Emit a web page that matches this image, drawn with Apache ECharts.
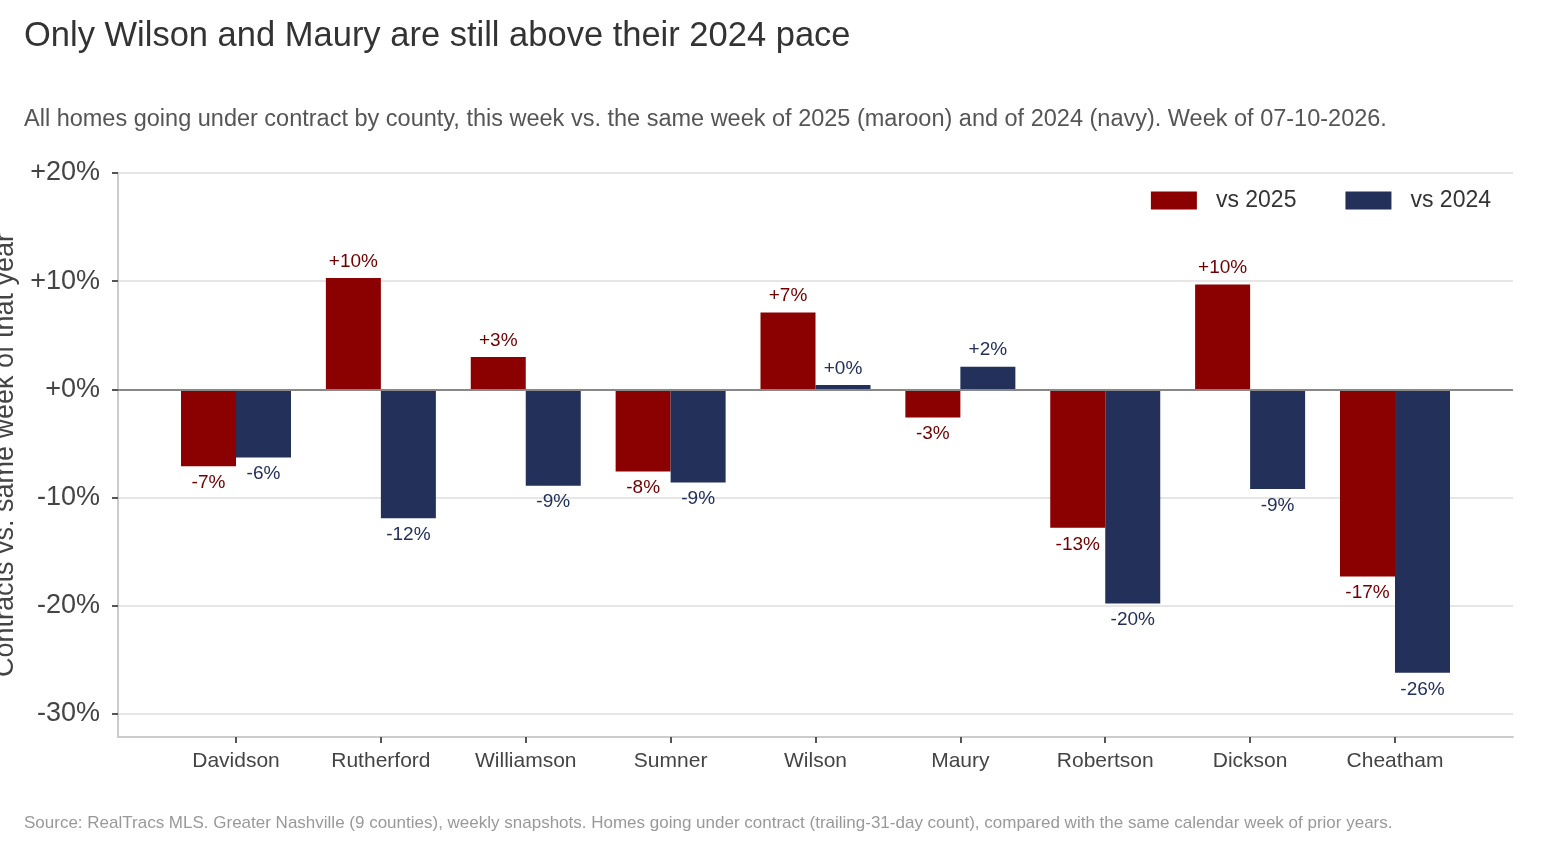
<!DOCTYPE html>
<html>
<head>
<meta charset="utf-8">
<script src="https://cdn.jsdelivr.net/npm/echarts@6/dist/echarts.min.js"></script>
<style>
  html, body { margin: 0; padding: 0; background: #fff; }
  #chart { width: 1568px; height: 848px; }
</style>
</head>
<body>
<div id="chart"></div>
<script>
  // counties, left to right
  var counties = ['Davidson', 'Rutherford', 'Williamson', 'Sumner', 'Wilson', 'Maury', 'Robertson', 'Dickson', 'Cheatham'];
  // % change in contracts, this week vs same week of prior year
  var vs2025 = [-7.1, 10.3, 3.0, -7.6, 7.1, -2.6, -12.8, 9.7, -17.3];
  var vs2024 = [-6.3, -11.9, -8.9, -8.6, 0.4, 2.1, -19.8, -9.2, -26.2];
  var yTicks = [-30, -20, -10, 0, 10, 20];
  var xTicks = [0, 1, 2, 3, 4, 5, 6, 7, 8];

  var FONT = '"Liberation Sans", Arial, Helvetica, sans-serif';
  var MAROON = '#8b0000', NAVY = '#22305a';

  function pct(v) {
    var r = Math.round(v);
    return (v >= 0 ? '+' : '') + r + '%';
  }

  function barSeries(name, vals, color, labelColor) {
    return {
      name: name,
      type: 'bar',
      barWidth: 55,
      barGap: '0%',
      itemStyle: { color: color },
      label: {
        show: true,
        fontFamily: FONT,
        fontSize: 19,
        color: labelColor,
        distance: 7,
        formatter: function (p) { return pct(p.value[1]); }
      },
      data: vals.map(function (v, i) {
        return { value: [i, v], label: { position: v >= 0 ? 'top' : 'bottom' } };
      })
    };
  }

  var chart = echarts.init(document.getElementById('chart'));
  var s25 = barSeries('vs 2025', vs2025, MAROON, '#6e0000');
  s25.markLine = {
    silent: true,
    symbol: 'none',
    label: { show: false },
    lineStyle: { color: '#888', width: 2, type: 'solid' },
    data: [{ yAxis: 0 }]
  };

  chart.setOption({
    animation: false,
    textStyle: { fontFamily: FONT },
    title: [
      {
        text: 'Only Wilson and Maury are still above their 2024 pace',
        left: 24, top: 19, padding: 0,
        textStyle: { fontFamily: FONT, fontSize: 34.5, fontWeight: 'normal', color: '#333' }
      },
      {
        text: 'All homes going under contract by county, this week vs. the same week of 2025 (maroon) and of 2024 (navy). Week of 07-10-2026.',
        left: 24, top: 108, padding: 0,
        textStyle: { fontFamily: FONT, fontSize: 23.5, fontWeight: 'normal', color: '#555' }
      },
      {
        text: 'Source: RealTracs MLS. Greater Nashville (9 counties), weekly snapshots. Homes going under contract (trailing-31-day count), compared with the same calendar week of prior years.',
        left: 24, top: 815, padding: 0,
        textStyle: { fontFamily: FONT, fontSize: 17, fontWeight: 'normal', color: '#999' }
      }
    ],
    legend: {
      right: 72, top: 184,
      itemWidth: 46, itemHeight: 18, itemGap: 49,
      icon: 'rect',
      textStyle: { fontFamily: FONT, fontSize: 23, color: '#333', padding: [0, 0, 0, 14] },
      data: ['vs 2025', 'vs 2024']
    },
    grid: { left: 118, right: 55, top: 173, bottom: 111, containLabel: false, outerBoundsMode: 'none' },
    xAxis: {
      type: 'value',
      min: -0.8145, max: 8.8145,
      splitLine: { show: false },
      axisLine: { show: true, onZero: false, lineStyle: { color: '#ccc', width: 2 } },
      axisTick: { show: true, customValues: xTicks, length: 6, lineStyle: { color: '#555', width: 2 } },
      axisLabel: {
        customValues: xTicks,
        formatter: function (v) { return counties[v] || ''; },
        fontFamily: FONT, fontSize: 21, color: '#444', margin: 14
      }
    },
    yAxis: {
      type: 'value',
      min: -32.13, max: 20,
      name: 'Contracts vs. same week of that year',
      nameLocation: 'middle',
      nameGap: 93,
      nameTextStyle: { fontFamily: FONT, fontSize: 27, color: '#444' },
      axisLine: { show: true, onZero: false, lineStyle: { color: '#ccc', width: 2 } },
      axisTick: { show: true, customValues: yTicks, length: 6, lineStyle: { color: '#555', width: 2 } },
      axisLabel: {
        customValues: yTicks,
        formatter: function (v) { return pct(v); },
        fontFamily: FONT, fontSize: 27, color: '#444', margin: 18
      },
      splitLine: { show: true, lineStyle: { color: '#e6e6e6', width: 2 } }
    },
    series: [s25, barSeries('vs 2024', vs2024, NAVY, '#22305a')]
  });
</script>
</body>
</html>
